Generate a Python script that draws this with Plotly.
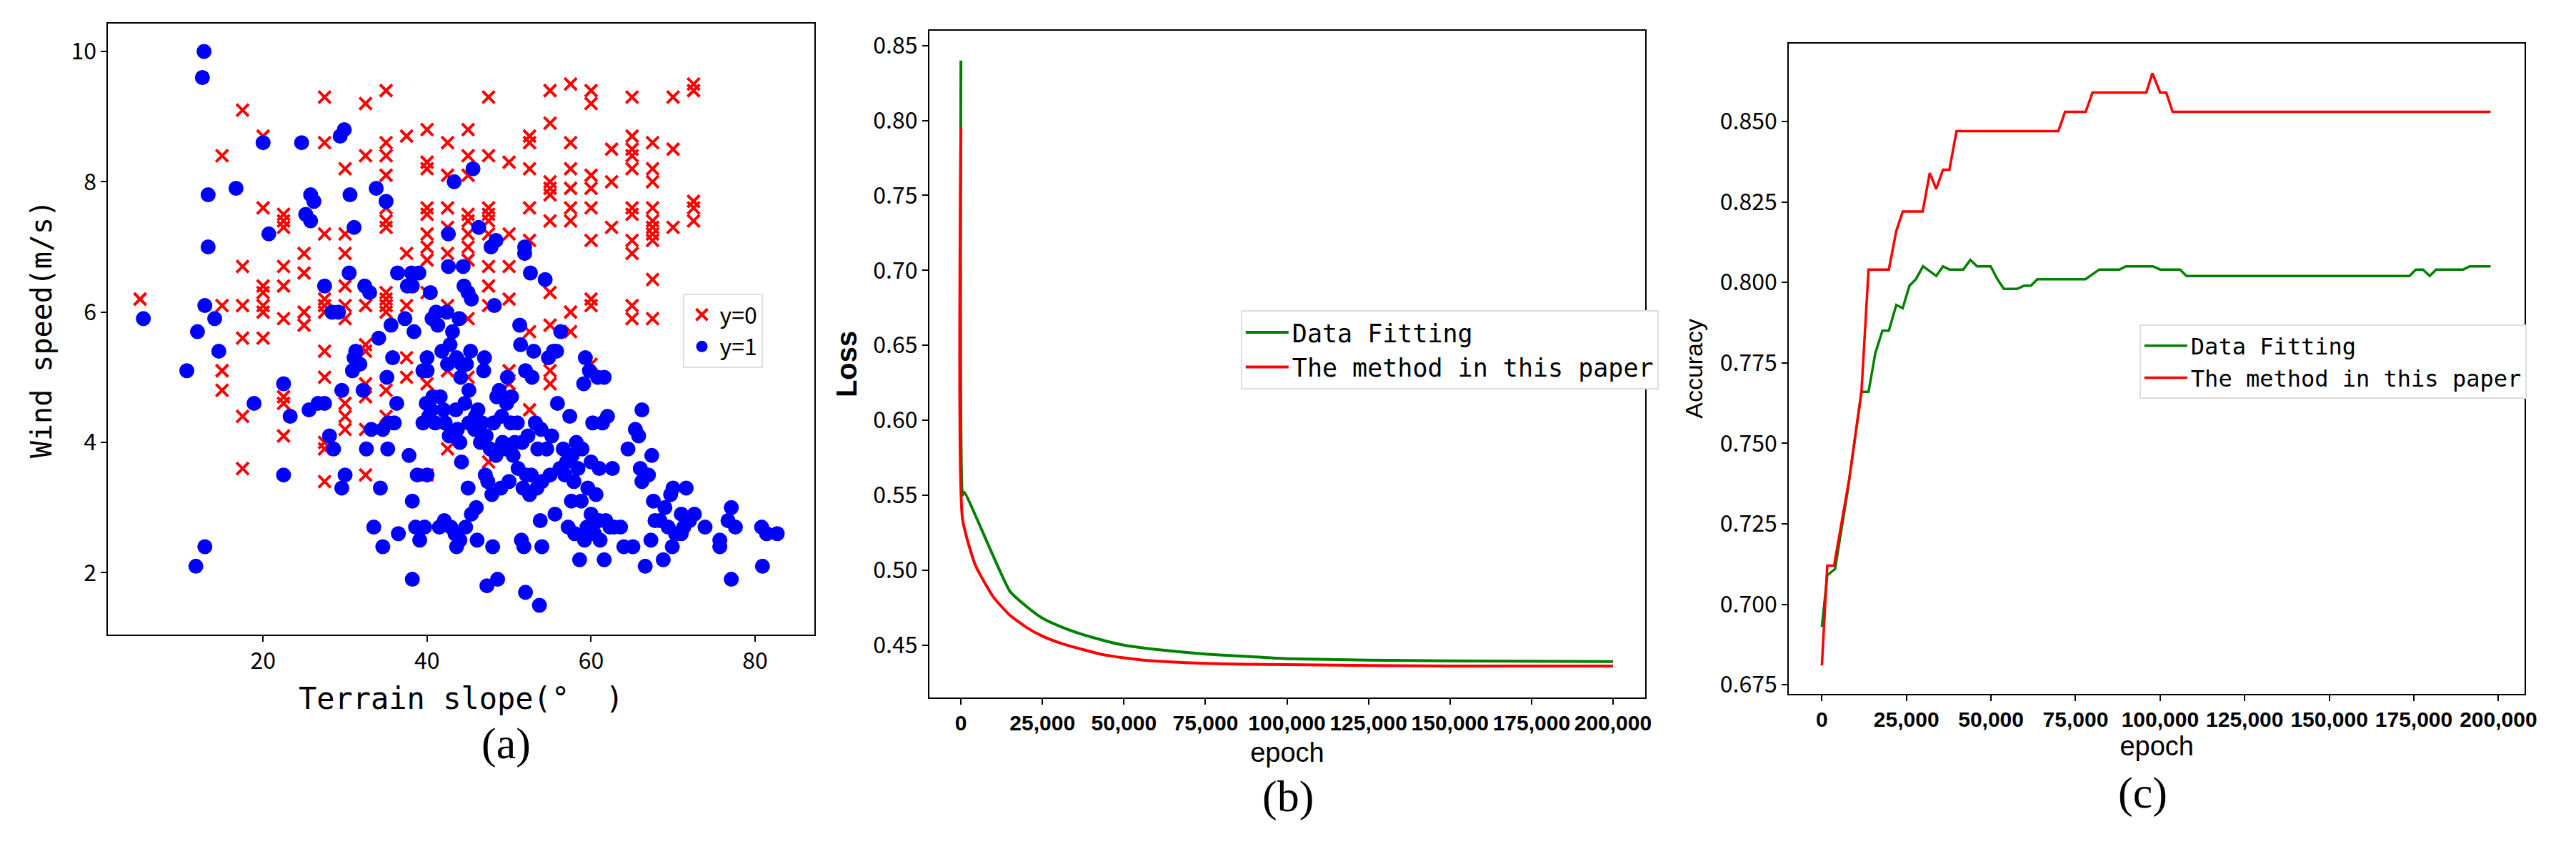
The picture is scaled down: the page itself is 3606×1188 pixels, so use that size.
import plotly.graph_objects as go

# ---- Panel (a) data ----
red_cols = {
    5: [6.2],
    15: [8.4, 6.1, 5.1, 4.8],
    17.5: [9.1, 6.7, 6.1, 5.6, 4.4, 3.6],
    20: [8.7, 7.6, 6.4, 6.3, 6.1, 6.0, 5.6],
    22.5: [7.5, 7.4, 7.3, 6.7, 6.4, 5.9, 4.7, 4.6, 4.1],
    25: [6.9, 6.6, 6.0, 5.8],
    27.5: [9.3, 8.6, 7.2, 6.2, 6.1, 6.0, 5.4, 5.0, 4.0, 3.9, 3.4],
    30: [8.2, 7.2, 6.9, 6.4, 6.1, 5.9, 4.6, 4.4, 4.2],
    32.5: [9.2, 8.4, 6.1, 5.5, 5.4, 4.9, 4.7, 4.2, 3.5],
    35: [9.4, 8.6, 8.4, 8.1, 7.6, 7.4, 7.3, 6.3, 6.2, 6.1, 6.0, 4.8, 4.4],
    37.5: [8.7, 6.9, 6.1, 5.3, 5.0],
    40: [8.8, 8.3, 8.2, 7.6, 7.5, 7.2, 7.0, 6.8, 6.3, 4.9, 3.5],
    42.5: [8.6, 8.1, 7.6, 7.3, 6.9, 6.1, 5.1, 3.9],
    45: [8.8, 8.4, 8.1, 7.5, 7.4, 7.2, 7.0, 6.8, 5.9, 5.0],
    47.5: [9.3, 8.4, 7.6, 7.5, 7.4, 7.2, 6.7, 6.4, 6.1, 3.7],
    50: [8.3, 7.2, 6.7, 6.2, 5.1, 4.9],
    52.5: [8.7, 8.6, 8.2, 7.6, 7.1, 5.7, 4.5],
    55: [9.4, 8.9, 8.0, 7.9, 7.8, 7.4, 6.3, 5.8, 5.1, 4.9],
    57.5: [9.5, 8.6, 8.2, 7.9, 7.6, 7.4, 6.0, 5.7],
    60: [9.4, 9.2, 8.1, 7.9, 7.6, 7.1, 6.2, 6.1, 5.2],
    62.5: [8.5, 8.0, 7.3],
    65: [9.3, 8.7, 8.5, 8.4, 8.2, 7.6, 7.5, 7.1, 6.9, 6.1, 5.9],
    67.5: [8.6, 8.2, 8.0, 7.6, 7.4, 7.3, 7.2, 7.1, 6.5, 5.9],
    70: [9.3, 8.5, 7.3],
    72.5: [9.5, 9.4, 7.7, 7.6, 7.4],
}
red_x = [k for k, v in red_cols.items() for _ in v]
red_y = [y for v in red_cols.values() for y in v]

blue_pts = [(5.4,5.9),(10.7,5.1),(11.8,2.1),(12,5.7),(12.6,9.6),(12.8,10.0),(12.9,6.1),(12.9,2.4),(13.3,7.8),(13.3,7.0),(14.1,5.9),(14.6,5.4),(16.7,7.9),(18.9,4.6),(20,8.6),(20.7,7.2),(22.5,4.9),(22.5,3.5),(23.3,4.4),(24.7,8.6),(25.2,7.5),(25.6,4.5),(25.8,7.8),(25.8,7.4),(26.2,7.7),(26.7,4.6),(27.5,6.4),(27.5,4.6),(28.1,4.1),(28.4,6.0),(28.6,3.9),(29.2,6.0),(29.4,8.7),(29.6,4.8),(29.6,3.3),(29.9,8.8),(30,3.5),(30.5,6.6),(30.6,7.8),(30.9,5.1),(31.1,7.3),(31.1,5.3),(31.3,5.4),(31.8,5.2),(32.2,4.8),(32.4,6.4),(32.6,3.9),(33,6.3),(33.2,4.2),(33.5,2.7),(33.8,7.9),(34.1,5.6),(34.3,3.3),(34.6,4.2),(34.6,2.4),(35,7.7),(35.1,5.0),(35.2,3.9),(35.3,4.3),(35.6,5.8),(35.8,5.3),(36,4.3),(36.3,4.6),(36.4,6.6),(36.5,2.6),(37.3,5.9),(37.6,6.4),(37.8,3.8),(38.1,6.6),(38.2,1.9),(38.2,3.1),(38.2,6.4),(38.4,5.7),(38.6,2.7),(38.8,3.5),(39,6.6),(39.1,2.5),(39.5,4.3),(39.5,5.1),(39.7,2.7),(39.9,4.6),(40,5.3),(40,5.1),(40,3.5),(40.2,4.4),(40.4,6.3),(40.5,4.5),(40.6,5.9),(40.7,4.7),(41,4.3),(41.1,6.0),(41.3,5.8),(41.5,2.7),(41.6,4.7),(41.8,5.4),(42,4.5),(42.1,2.8),(42.2,4.3),(42.4,6.0),(42.5,5.2),(42.6,7.2),(42.6,6.7),(42.7,4.1),(42.8,5.5),(42.9,2.7),(43.1,5.7),(43.3,8.0),(43.4,2.6),(43.5,4.5),(43.6,5.3),(43.6,2.4),(43.7,4.2),(43.9,5.9),(44,2.5),(44,4.0),(44.1,5.0),(44.2,5.2),(44.2,3.7),(44.4,6.7),(44.5,6.4),(44.6,4.6),(44.7,2.7),(44.8,5.2),(45,3.3),(45,6.3),(45.1,4.3),(45.1,4.8),(45.3,5.4),(45.4,6.2),(45.4,2.9),(45.6,8.2),(45.8,4.2),(45.9,4.4),(46,3.0),(46.1,2.5),(46.2,4.5),(46.3,7.3),(46.5,4.0),(46.7,4.3),(46.9,5.1),(47,5.3),(47.1,3.5),(47.2,4.1),(47.3,1.8),(47.4,3.4),(47.7,3.9),(47.8,7.0),(47.9,3.2),(48,2.4),(48.1,4.3),(48.2,6.1),(48.4,7.1),(48.4,3.8),(48.5,4.7),(48.6,1.9),(48.8,4.8),(49,3.3),(49.1,4.4),(49.2,4.0),(49.6,3.9),(49.7,4.6),(49.8,5.0),(50,3.4),(50,3.9),(50.2,4.3),(50.3,4.7),(50.5,3.8),(50.7,4.0),(51,4.3),(51.1,3.6),(51.3,5.8),(51.4,5.5),(51.5,2.5),(51.6,4.0),(51.7,3.3),(51.8,2.4),(51.9,6.9),(51.9,7.0),(52,5.1),(52,1.7),(52.1,3.5),(52.3,4.1),(52.5,3.2),(52.6,6.6),(52.7,3.5),(52.8,5.0),(53,5.4),(53.2,4.3),(53.4,3.3),(53.5,3.9),(53.7,1.5),(53.8,2.8),(53.9,4.2),(54,3.4),(54,2.4),(54.4,6.5),(54.6,3.9),(54.8,5.3),(55,3.5),(55.2,4.1),(55.4,5.4),(55.6,2.9),(55.8,5.4),(55.9,4.6),(56.2,3.6),(56.3,5.7),(56.6,3.9),(56.8,3.5),(57,3.7),(57.2,2.7),(57.4,4.4),(57.6,3.1),(57.7,3.8),(57.9,3.4),(58,2.6),(58.2,4.0),(58.4,3.6),(58.6,2.2),(58.8,3.1),(58.9,3.9),(59.1,4.9),(59.2,2.5),(59.3,5.3),(59.5,2.7),(59.6,3.3),(59.8,5.1),(60,3.7),(60,2.9),(60.2,4.3),(60.4,2.6),(60.6,3.2),(60.8,5.0),(61,2.8),(61,3.6),(61.1,2.5),(61.4,4.3),(61.6,5.0),(61.6,2.2),(61.8,2.8),(62,4.4),(62.3,2.7),(62.6,3.6),(62.8,2.7),(63.6,2.7),(64,2.4),(64.5,3.9),(65.1,2.4),(65.4,4.2),(65.8,4.1),(66,3.6),(66.2,4.5),(66.2,3.4),(66.6,2.1),(67,3.5),(67.3,2.5),(67.4,3.8),(67.6,3.1),(67.8,2.8),(68.4,2.8),(68.8,2.2),(69,3.0),(69.4,2.7),(69.7,3.2),(69.9,2.4),(70,3.3),(70.3,2.6),(71,2.6),(71,2.9),(71.3,2.7),(71.6,3.3),(72,2.8),(72.6,2.9),(73.9,2.7),(75.7,2.5),(75.7,2.4),(76.7,2.8),(77.1,1.9),(77.1,3.0),(77.6,2.7),(80.8,2.7),(80.9,2.1),(81.4,2.6),(82.7,2.6)]
blue_x = [p[0] for p in blue_pts]
blue_y = [p[1] for p in blue_pts]

# ---- Panel (b) data ----
loss_green_x = [0, 500, 1000, 15000, 20000, 25000, 31000, 37500, 44000, 50000, 62500, 75000, 87500, 100000, 125000, 150000, 200000]
loss_green_y = [0.84, 0.55, 0.552, 0.486, 0.476, 0.468, 0.462, 0.457, 0.453, 0.450, 0.4465, 0.444, 0.4425, 0.441, 0.440, 0.4395, 0.439]
loss_red_x = [0, 500, 4500, 10000, 15000, 20000, 25000, 31000, 37500, 44000, 50000, 56000, 62500, 75000, 87500, 100000, 150000, 200000]
loss_red_y = [0.795, 0.534, 0.503, 0.482, 0.470, 0.462, 0.456, 0.451, 0.447, 0.4435, 0.4415, 0.440, 0.439, 0.4378, 0.4372, 0.437, 0.436, 0.436]

# ---- Panel (c) data ----
acc_red_x = [0, 1600, 3600, 8100, 11700, 13800, 19800, 22000, 23900, 29800, 31900, 33800, 35800, 37700, 39800, 69900, 71900, 78000, 80000, 95900, 97700, 100000, 101800, 103700, 197700]
acc_red_y = [0.681, 0.712, 0.712, 0.739, 0.766, 0.804, 0.804, 0.816, 0.822, 0.822, 0.834, 0.829, 0.835, 0.835, 0.847, 0.847, 0.853, 0.853, 0.859, 0.859, 0.865, 0.859, 0.859, 0.853, 0.853]
acc_green_x = [0, 1600, 3900, 7600, 11700, 13800, 15800, 17900, 19800, 22000, 23900, 25900, 27800, 29900, 33800, 35800, 37700, 41800, 43900, 45900, 49900, 51900, 53800, 57700, 59800, 61800, 63700, 77900, 82000, 88000, 89900, 97900, 100000, 105900, 107800, 173700, 175600, 177700, 179700, 181600, 189600, 191500, 197700]
acc_green_y = [0.693, 0.709, 0.711, 0.735, 0.766, 0.766, 0.778, 0.785, 0.785, 0.793, 0.792, 0.799, 0.801, 0.805, 0.802, 0.805, 0.804, 0.804, 0.807, 0.805, 0.805, 0.801, 0.798, 0.798, 0.799, 0.799, 0.801, 0.801, 0.804, 0.804, 0.805, 0.805, 0.804, 0.804, 0.802, 0.802, 0.804, 0.804, 0.802, 0.804, 0.804, 0.805, 0.805]

TICKF = "Noto Sans CJK SC"
fig = go.Figure()
fig.add_trace(go.Scatter(x=red_x, y=red_y, mode="markers", name="y=0",
    marker=dict(symbol="x-thin", size=17, color="red", line=dict(width=4, color="red")),
    xaxis="x", yaxis="y", legend="legend"))
fig.add_trace(go.Scatter(x=blue_x, y=blue_y, mode="markers", name="y=1",
    marker=dict(symbol="circle", size=21, color="blue"), xaxis="x", yaxis="y", legend="legend"))
fig.add_trace(go.Scatter(x=loss_green_x, y=loss_green_y, mode="lines", name="Data Fitting",
    line=dict(color="green", width=4, shape="spline", smoothing=0.5), xaxis="x2", yaxis="y2", legend="legend2"))
fig.add_trace(go.Scatter(x=loss_red_x, y=loss_red_y, mode="lines", name="The method in this paper",
    line=dict(color="red", width=4, shape="spline", smoothing=0.5), xaxis="x2", yaxis="y2", legend="legend2"))
fig.add_trace(go.Scatter(x=acc_green_x, y=acc_green_y, mode="lines", name="Data Fitting",
    line=dict(color="green", width=3.5), xaxis="x3", yaxis="y3", legend="legend3"))
fig.add_trace(go.Scatter(x=acc_red_x, y=acc_red_y, mode="lines", name="The method in this paper",
    line=dict(color="red", width=3.5), xaxis="x3", yaxis="y3", legend="legend3"))

ax = dict(showgrid=False, zeroline=False, showline=True, linecolor="black", linewidth=2,
          mirror=True, ticks="outside", ticklen=8, tickwidth=2, tickcolor="black",
          tickfont=dict(family=TICKF, size=32, color="black"))
W, H = 3606, 1188
def dom(a, b, n):
    return [a / n, b / n]

fig.update_layout(
    width=W, height=H, margin=dict(l=0, r=0, t=0, b=0),
    paper_bgcolor="white", plot_bgcolor="white", showlegend=True,
    xaxis=dict(ax, domain=dom(144, 1137, W), range=[1.1, 87.2], tickvals=[20, 40, 60, 80],
               title=dict(text="Terrain slope(°  )", font=dict(family="DejaVu Sans Mono", size=42, color="black"), standoff=18), anchor="y"),
    yaxis=dict(ax, domain=[1 - 884 / H, 1 - 20 / H], range=[1.05, 10.43], tickvals=[2, 4, 6, 8, 10],
               title=dict(text="Wind speed(m/s)", font=dict(family="DejaVu Sans Mono", size=40, color="black"), standoff=14), anchor="x"),
    xaxis2=dict(ax, domain=dom(1299, 2306, W), range=[-9700, 209900], tickvals=list(range(0, 200001, 25000)),
                tickformat=",", tickfont=dict(family="Liberation Sans", size=30, color="black", weight="bold"),
                title=dict(text="epoch", font=dict(family="Liberation Sans", size=38, color="black"), standoff=12), anchor="y2"),
    yaxis2=dict(ax, domain=[1 - 973 / H, 1 - 30 / H], range=[0.415, 0.86], tickvals=[0.45, 0.5, 0.55, 0.6, 0.65, 0.7, 0.75, 0.8, 0.85],
                tickformat=".2f", title=dict(text="Loss", font=dict(family="Liberation Sans", size=40, color="black", weight="bold"), standoff=10), anchor="x2"),
    xaxis3=dict(ax, domain=dom(2508, 3543, W), range=[-9750, 207800], tickvals=list(range(0, 200001, 25000)),
                tickformat=",", tickfont=dict(family="Liberation Sans", size=30, color="black", weight="bold"),
                title=dict(text="epoch", font=dict(family="Liberation Sans", size=38, color="black"), standoff=6), anchor="y3"),
    yaxis3=dict(ax, domain=[1 - 968 / H, 1 - 48 / H], range=[0.6721, 0.8743],
                tickvals=[0.675, 0.7, 0.725, 0.75, 0.775, 0.8, 0.825, 0.85], tickformat=".3f",
                title=dict(text="Accuracy", font=dict(family="Liberation Sans", size=34, color="black"), standoff=14), anchor="x3"),
    legend=dict(x=952 / W, y=1 - 402 / H, xanchor="left", yanchor="top", bgcolor="white", itemwidth=40,
                bordercolor="#dddddd", borderwidth=2, font=dict(family=TICKF, size=32, color="black")),
    legend2=dict(x=1737 / W, y=1 - 425 / H, xanchor="left", yanchor="top", bgcolor="white", itemwidth=60,
                 bordercolor="#dddddd", borderwidth=2, font=dict(family="DejaVu Sans Mono", size=35, color="black")),
    legend3=dict(x=3001 / W, y=1 - 446 / H, xanchor="left", yanchor="top", bgcolor="white", itemwidth=60,
                 bordercolor="#dddddd", borderwidth=2, font=dict(family="DejaVu Sans Mono", size=32, color="black")),
)
for txt, xc, yc in [("(a)", 667, 1075), ("(b)", 1803, 1150), ("(c)", 3042, 1145)]:
    fig.add_annotation(text=txt, x=xc / W, y=1 - yc / H, xref="paper", yref="paper", showarrow=False,
                       font=dict(family="Liberation Serif", size=62, color="black"))

fig.write_html("out.html")
